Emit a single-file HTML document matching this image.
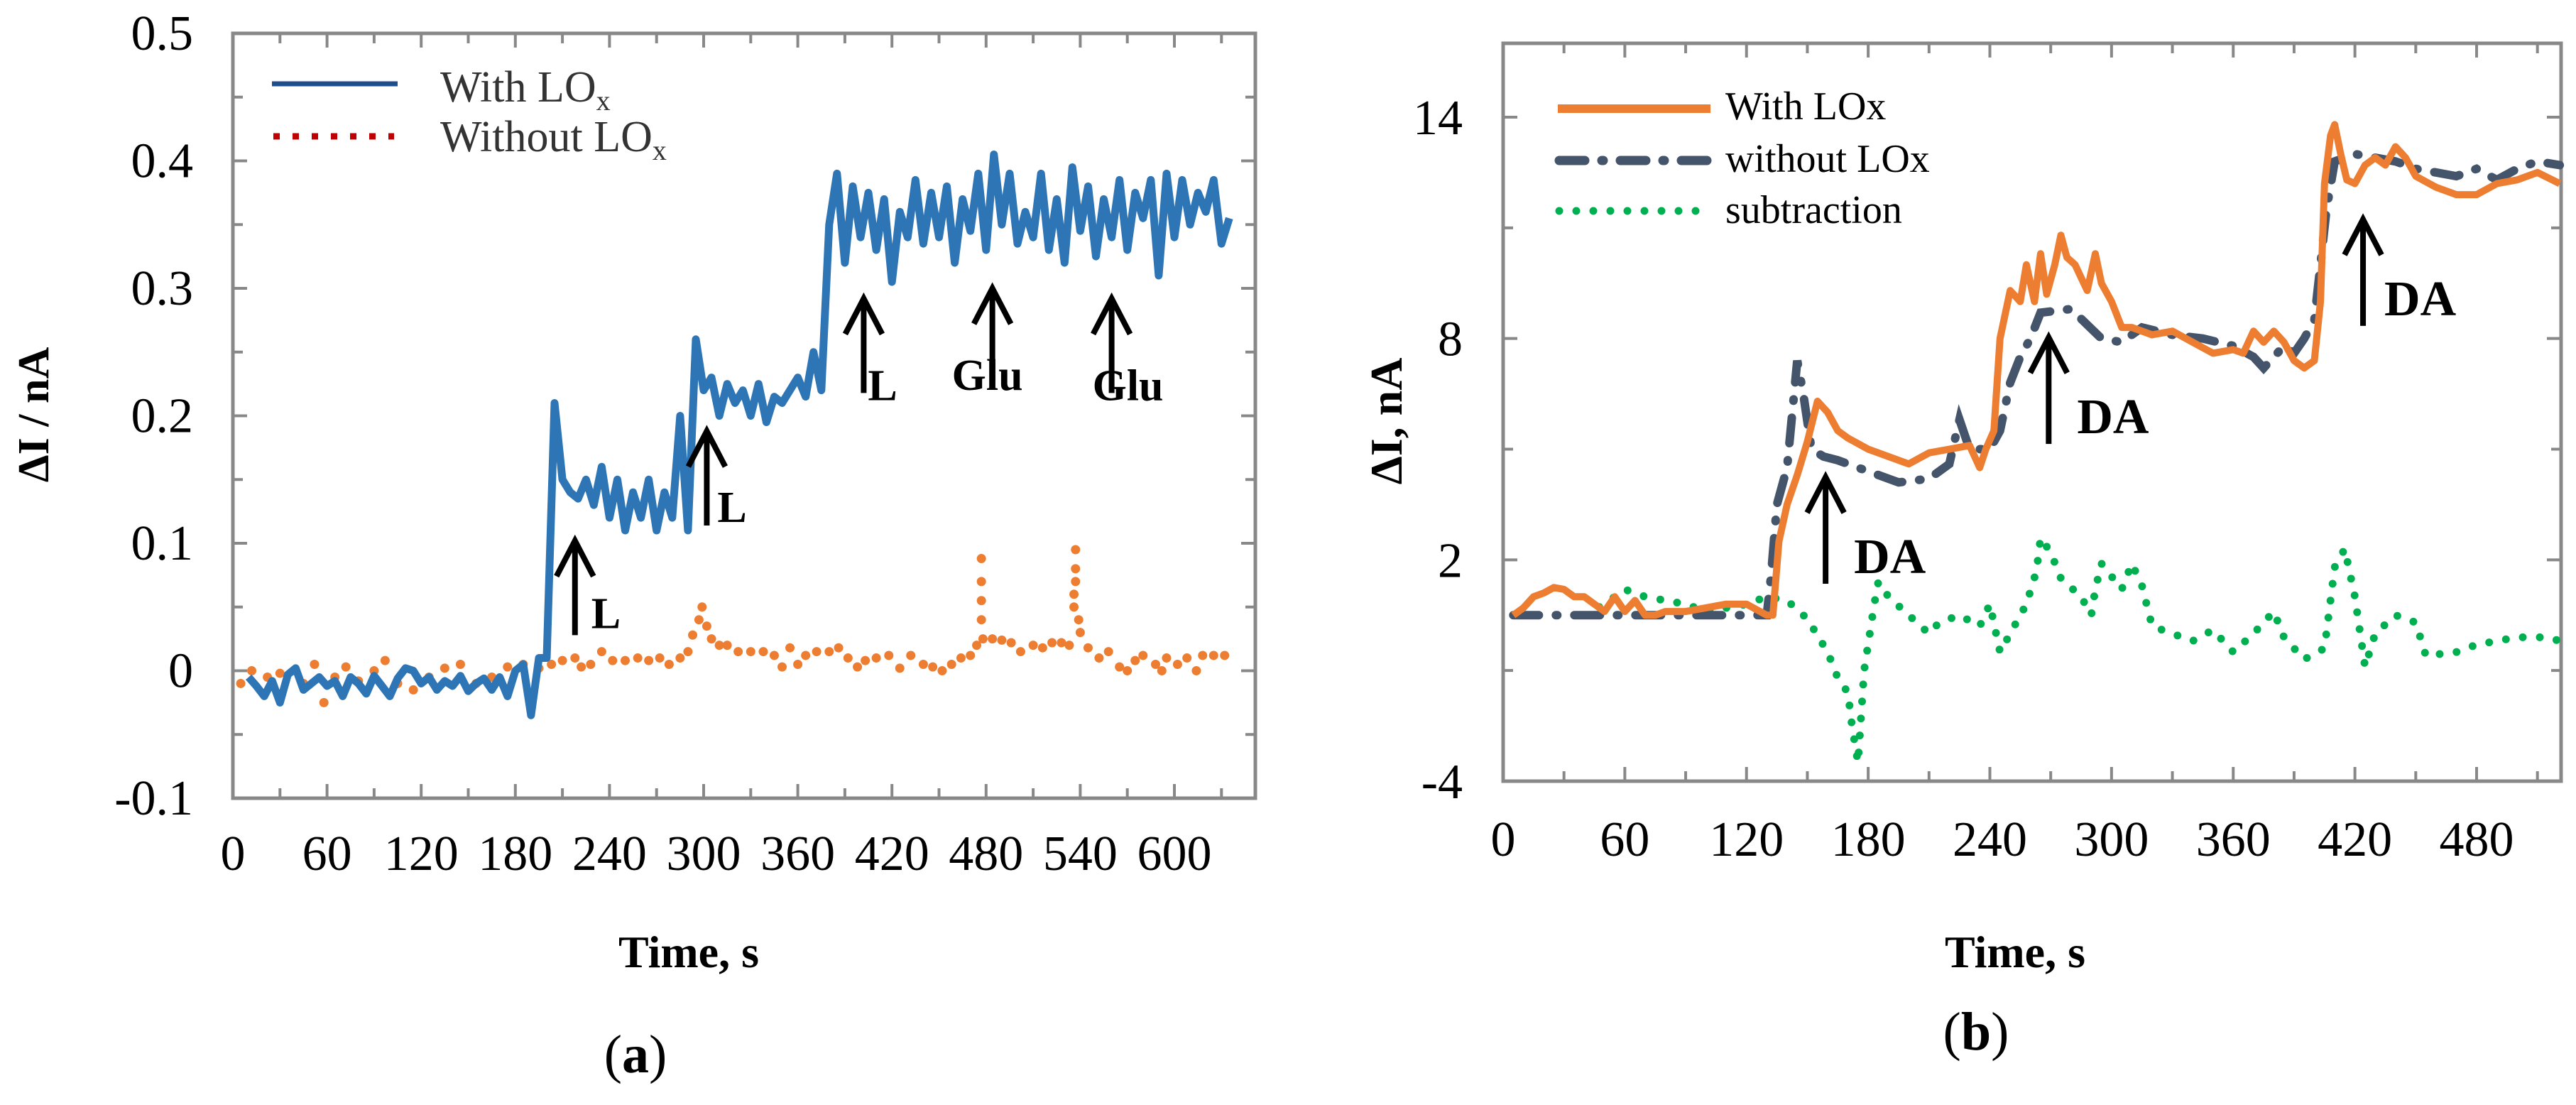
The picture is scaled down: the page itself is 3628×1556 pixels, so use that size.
<!DOCTYPE html>
<html><head><meta charset="utf-8">
<style>
html,body{margin:0;padding:0;background:#fff;}
svg, svg text{font-family:"Liberation Serif","DejaVu Serif",serif;}
</style></head>
<body>
<svg id="fig" width="3628" height="1551" viewBox="0 0 3628 1551" xmlns="http://www.w3.org/2000/svg" font-family="Liberation Serif, serif">
<rect width="3628" height="1551" fill="#fff"/>
<g id="pa"></g>
<g id="pb"></g>
</svg>
<script>
// ---------- Panel (a) data ----------
const aBlueT = [10,15,20,25,30,35,40,45,50,55,60,65,70,75,80,85,90,95,100,105,110,115,120,125,130,135,140,145,150,155,160,165,170,175,180,185,190,195,200,205,210,215,220,225,230,235,240,245,250,255,260,265,270,275,280,285,290,295,300,305,310,315,320,325,330,335,340,345,350,355,360,365,370,375,380,385,390,395,400,405,410,415,420,425,430,435,440,445,450,455,460,465,470,475,480,485,490,495,500,505,510,515,520,525,530,535,540,545,550,555,560,565,570,575,580,585,590,595,600,605,610,615,620,625,630,635];
const aBlueV = [-0.005,-0.012,-0.02,-0.008,-0.025,-0.003,0.002,-0.015,-0.01,-0.005,-0.012,-0.008,-0.02,-0.005,-0.01,-0.018,-0.004,-0.012,-0.02,-0.006,0.002,0.0,-0.01,-0.005,-0.015,-0.008,-0.012,-0.004,-0.016,-0.01,-0.006,-0.015,-0.005,-0.02,0.0,0.005,-0.035,0.01,0.01,0.21,0.15,0.14,0.135,0.15,0.13,0.16,0.12,0.15,0.11,0.14,0.12,0.15,0.11,0.14,0.12,0.2,0.11,0.26,0.22,0.23,0.2,0.225,0.21,0.22,0.2,0.225,0.195,0.215,0.21,0.22,0.23,0.215,0.25,0.22,0.35,0.39,0.32,0.38,0.34,0.375,0.33,0.37,0.305,0.36,0.34,0.385,0.335,0.375,0.34,0.38,0.32,0.37,0.345,0.39,0.33,0.405,0.35,0.39,0.335,0.36,0.34,0.39,0.33,0.37,0.32,0.395,0.345,0.38,0.325,0.37,0.34,0.385,0.33,0.375,0.355,0.385,0.31,0.39,0.34,0.385,0.35,0.375,0.36,0.385,0.335,0.355];
const aDotT = [5,12,22,30,45,52,58,65,72,80,90,97,105,115,125,135,145,155,165,175,185,195,203,210,218,222,228,235,242,250,258,265,272,278,285,290,293,297,299,302,305,310,315,322,330,338,345,350,355,360,365,372,380,386,392,398,403,410,418,425,432,440,446,452,458,464,470,474,477,477,477,477,478,484,490,496,502,510,516,522,528,533,536,536,537,537,537,539,540,545,552,558,565,570,575,580,588,592,595,602,608,614,618,625,632];
const aDotV = [-0.01,0.0,-0.005,-0.002,-0.01,0.005,-0.025,-0.005,0.003,-0.008,0.0,0.008,-0.01,-0.015,-0.005,0.002,0.005,-0.01,-0.005,0.003,0.005,0.002,0.005,0.008,0.01,0.003,0.005,0.015,0.008,0.008,0.01,0.008,0.01,0.005,0.01,0.015,0.028,0.04,0.05,0.035,0.025,0.02,0.02,0.015,0.015,0.015,0.012,0.003,0.018,0.005,0.012,0.015,0.015,0.018,0.01,0.003,0.008,0.01,0.012,0.002,0.012,0.005,0.003,0.0,0.005,0.01,0.012,0.02,0.04,0.055,0.07,0.088,0.025,0.025,0.024,0.022,0.015,0.02,0.018,0.022,0.022,0.02,0.05,0.06,0.07,0.08,0.095,0.04,0.03,0.018,0.01,0.015,0.003,0.0,0.008,0.012,0.005,0.0,0.01,0.005,0.01,0.0,0.012,0.012,0.012];
const aXTicks = [0,60,120,180,240,300,360,420,480,540,600];
const aYTicks = [-0.1,0,0.1,0.2,0.3,0.4,0.5];
const aYLabels = ["-0.1","0","0.1","0.2","0.3","0.4","0.5"];
const aArrowT = [218,302,402,484,560];
const aArrowV = [0.102,0.188,0.292,0.30,0.292];
const aArrowLbl = ["L","L","L","Glu","Glu"];

// ---------- Panel (b) data ----------
const bOrT = [5,10,15,20,25,30,35,40,45,50,55,60,65,70,75,80,90,100,110,120,130,133,136,140,145,150,155,160,165,170,180,190,200,210,220,230,235,238,242,245,250,255,258,262,265,268,272,275,278,282,288,292,295,300,305,310,320,330,340,350,360,365,370,375,380,385,390,395,400,403,405,408,410,413,416,420,425,430,435,440,445,450,460,470,480,490,500,510,521];
const bOrV = [0.5,0.7,1.0,1.1,1.25,1.2,1.0,1.0,0.8,0.6,1.0,0.6,0.9,0.5,0.5,0.6,0.6,0.7,0.8,0.8,0.5,0.5,2.5,3.5,4.3,5.2,6.3,6.0,5.5,5.3,5.0,4.8,4.6,4.9,5.0,5.1,4.5,5.0,5.5,8.0,9.3,9.0,10.0,9.0,10.3,9.2,10.0,10.8,10.2,10.0,9.3,10.3,9.5,9.0,8.3,8.3,8.1,8.2,7.9,7.6,7.7,7.6,8.2,7.9,8.2,7.9,7.4,7.2,7.4,9.0,12.2,13.5,13.8,13.0,12.3,12.2,12.7,12.9,12.7,13.2,12.9,12.4,12.1,11.9,11.9,12.2,12.3,12.5,12.2];
const bDkT = [5,130,132,135,140,145,148,152,158,165,175,185,195,210,220,225,230,240,245,250,255,260,265,280,295,305,315,330,345,360,370,375,385,390,395,400,403,406,410,420,440,450,470,480,490,500,510,521];
const bDkV = [0.5,0.5,1.5,3.5,4.5,7.4,6.5,5.0,4.8,4.7,4.5,4.3,4.1,4.2,4.6,5.8,5.0,5.0,5.5,6.8,7.5,8.0,8.7,8.8,8.0,7.9,8.3,8.1,8.0,7.8,7.5,7.2,7.8,7.6,8.0,8.5,10.0,11.5,12.8,13.0,12.8,12.6,12.4,12.6,12.3,12.6,12.8,12.7];
const bGrT = [40,50,60,70,80,90,100,110,120,130,140,150,160,165,170,172,175,178,183,185,190,200,210,215,225,235,240,245,250,258,263,265,270,275,285,290,292,295,305,310,315,320,330,340,350,360,370,380,385,395,405,410,415,420,425,430,440,450,455,470,480,490,500,515,521];
const bGrV = [0.5,0.8,1.2,1.0,0.9,0.8,0.6,0.7,0.8,1.0,0.9,0.4,-0.5,-1.2,-1.6,-2.5,-3.5,-1.0,0.8,1.4,1.0,0.5,0.0,0.3,0.5,0.2,0.8,-0.5,0.0,0.8,1.7,2.6,2.2,1.5,1.0,0.5,1.2,1.9,1.2,1.9,1.3,0.2,0.0,-0.2,0.1,-0.5,0.0,0.6,-0.1,-0.7,-0.4,1.8,2.3,1.0,-0.9,0.0,0.5,0.3,-0.6,-0.5,-0.3,-0.2,-0.1,-0.1,-0.2];
const bXTicks = [0,60,120,180,240,300,360,420,480];
const bYTicks = [-4,2,8,14];
const bArrowT = [159,269,424];
const bArrowV = [4.24,8.03,11.23];
const bArrowLbl = ["DA","DA","DA"];

const NS = "http://www.w3.org/2000/svg";
const FONT = "Liberation Serif, DejaVu Serif, serif";
function mk(parent, tag, attrs, text){
  const e = document.createElementNS(NS, tag);
  for (const k in attrs) e.setAttribute(k, attrs[k]);
  if (tag === "text") e.setAttribute("font-family", FONT);
  if (text !== undefined) e.textContent = text;
  parent.appendChild(e);
  return e;
}
function pathOf(ts, vs, sx, sy){
  return ts.map((t,i)=>(i?"L":"M")+sx(t).toFixed(1)+","+sy(vs[i]).toFixed(1)).join("");
}
function arrow(g, x, yBot, yTop, lbl, lx, ly, fs, name){
  const a = mk(g,"path",{d:`M${x},${yBot}L${x},${yTop+4}M${x-26},${yTop+50}L${x},${yTop}L${x+26},${yTop+50}`,stroke:"#000","stroke-width":8,fill:"none"});
  
  
  const t = mk(g,"text",{x:lx,y:ly,"font-size":fs,"font-weight":"bold",fill:"#000"},lbl);
  
  
}

// ---------- Panel (a) ----------
(function(){
  const g = document.getElementById("pa");
  const L=328,R=1768,T=47,B=1124;
  const sx = t => L + t*(1654-328)/600;
  const sy = v => 944.5 - v*1795;
  for (let i=0;i<=22;i++){ const t=i*30; const x=sx(t); if(x>R-2) break; const len = i%2?14:20;
    const tk=mk(g,"path",{d:`M${x},${B}L${x},${B-len}M${x},${T}L${x},${T+len}`,stroke:"#888","stroke-width":4});
      }
  for (let i=0;i<=12;i++){ const v=-0.1+i*0.05; const y=sy(v); const len = i%2?14:20;
    const tk=mk(g,"path",{d:`M${L},${y}L${L+len},${y}M${R},${y}L${R-len},${y}`,stroke:"#888","stroke-width":4});
      }
  const box=mk(g,"rect",{x:L,y:T,width:R-L,height:B-T,fill:"none",stroke:"#888","stroke-width":5});
   
  aXTicks.forEach(t=>{ const e=mk(g,"text",{x:sx(t),y:1225,"font-size":70,"text-anchor":"middle"},String(t));
      });
  aYTicks.forEach((v,i)=>{ const e=mk(g,"text",{x:272,y:sy(v)+23,"font-size":70,"text-anchor":"end"},aYLabels[i]);
      });
  aDotT.forEach((t,i)=>{ const c=mk(g,"circle",{cx:sx(t),cy:sy(aDotV[i]),r:6.5,fill:"#ed7d31"});
      });
  const bl=mk(g,"path",{d:pathOf(aBlueT,aBlueV,sx,sy),stroke:"#2e75b6","stroke-width":11,fill:"none","stroke-linejoin":"round"});
   
  aArrowT.forEach((t,i)=>{ const x=sx(t); const yTop=sy(aArrowV[i]); const yBot=yTop+133;
    const lbl=aArrowLbl[i];
    let lx, ly;
    if (i===0){ lx=x+23; ly=yBot-10; }
    else if (i===1){ lx=x+15; ly=yBot-5; }
    else if (i===2){ lx=x+6; ly=yBot+10; }
    else if (i===3){ lx=x-57; ly=yBot+10; }
    else { lx=x-27; ly=yBot+10; }
    arrow(g,x,yBot,yTop,lbl,lx,ly,62,'arrow-a-'+(i+1)); });
  const lg=mk(g,"g",{});
   
  mk(lg,"line",{x1:383,y1:118,x2:560,y2:118,stroke:"#1f4e8c","stroke-width":7});
  mk(lg,"line",{x1:385,y1:192,x2:555,y2:192,stroke:"#c00000","stroke-width":9,"stroke-dasharray":"9 18"});
  const t1=mk(lg,"text",{x:620,y:143,"font-size":62,fill:"#333"}); t1.innerHTML='With LO<tspan font-size="40" dy="12">x</tspan>';
   
  const t2=mk(lg,"text",{x:620,y:213,"font-size":62,fill:"#333"}); t2.innerHTML='Without LO<tspan font-size="40" dy="12">x</tspan>';
   
  const yl=mk(g,"text",{x:0,y:0,"font-size":62,"font-weight":"bold","text-anchor":"middle",transform:"translate(68,584) rotate(-90)"},"ΔI / nA");
   
  const xl=mk(g,"text",{x:970,y:1362,"font-size":64,"font-weight":"bold","text-anchor":"middle"},"Time, s");
   
  const pl=mk(g,"text",{x:895,y:1510,"font-size":76,"text-anchor":"middle"}); pl.innerHTML='(<tspan font-weight="bold">a</tspan>)';
   
})();

// ---------- Panel (b) ----------
(function(){
  const g = document.getElementById("pb");
  const L=2117,R=3607,T=61,B=1100;
  const sx = t => L + t*(3488-2117)/480;
  const sy = v => 1100 - (v+4)*(1100-165)/18;
  for (let i=0;i<=18;i++){ const t=i*30; const x=sx(t); if(x>R-2) break; const len=i%2?14:20;
    const tk=mk(g,"path",{d:`M${x},${B}L${x},${B-len}M${x},${T}L${x},${T+len}`,stroke:"#888","stroke-width":4});
      }
  for (let i=0;i<=6;i++){ const v=-4+i*3; const y=sy(v); const len=i%2?14:20;
    const tk=mk(g,"path",{d:`M${L},${y}L${L+len},${y}M${R},${y}L${R-len},${y}`,stroke:"#888","stroke-width":4});
      }
  const box=mk(g,"rect",{x:L,y:T,width:R-L,height:B-T,fill:"none",stroke:"#888","stroke-width":5});
   
  bXTicks.forEach(t=>{ const e=mk(g,"text",{x:sx(t),y:1205,"font-size":70,"text-anchor":"middle"},String(t));
      });
  bYTicks.forEach(v=>{ const e=mk(g,"text",{x:2060,y:sy(v)+24,"font-size":70,"text-anchor":"end"},String(v));
      });
  const gr=mk(g,"path",{d:pathOf(bGrT,bGrV,sx,sy),stroke:"#00b050","stroke-width":11,fill:"none","stroke-linecap":"round","stroke-dasharray":"0 24"});
   
  const dk=mk(g,"path",{d:pathOf(bDkT,bDkV,sx,sy),stroke:"#44546a","stroke-width":12,fill:"none","stroke-linecap":"round","stroke-dasharray":"36 24 2 24"});
   
  const or=mk(g,"path",{d:pathOf(bOrT,bOrV,sx,sy),stroke:"#ed7d31","stroke-width":10,fill:"none","stroke-linejoin":"round"});
   
  bArrowT.forEach((t,i)=>{ const x=sx(t); const yTop=sy(bArrowV[i]); const yBot=yTop+150;
    const lx = i===2 ? x+30 : x+40;
    arrow(g,x,yBot,yTop,bArrowLbl[i],lx,yBot-15,70,'arrow-b-'+(i+1)); });
  const lg=mk(g,"g",{});
   
  mk(lg,"line",{x1:2194,y1:153,x2:2409,y2:153,stroke:"#ed7d31","stroke-width":12});
  mk(lg,"line",{x1:2196,y1:226,x2:2409,y2:226,stroke:"#44546a","stroke-width":13,"stroke-linecap":"round","stroke-dasharray":"36 24 2 24"});
  mk(lg,"line",{x1:2196,y1:297,x2:2402,y2:297,stroke:"#00b050","stroke-width":11,"stroke-linecap":"round","stroke-dasharray":"0 24"});
  const l1=mk(lg,"text",{x:2430,y:168,"font-size":56},"With LOx");  
  const l2=mk(lg,"text",{x:2430,y:242,"font-size":56},"without LOx");  
  const l3=mk(lg,"text",{x:2430,y:314,"font-size":56},"subtraction");  
  const yl=mk(g,"text",{x:0,y:0,"font-size":64,"font-weight":"bold","text-anchor":"middle",transform:"translate(1974,593) rotate(-90)"},"ΔI, nA");
   
  const xl=mk(g,"text",{x:2838,y:1362,"font-size":64,"font-weight":"bold","text-anchor":"middle"},"Time, s");
   
  const pl=mk(g,"text",{x:2783,y:1478,"font-size":76,"text-anchor":"middle"}); pl.innerHTML='(<tspan font-weight="bold">b</tspan>)';
   
})();
</script>
</body></html>
